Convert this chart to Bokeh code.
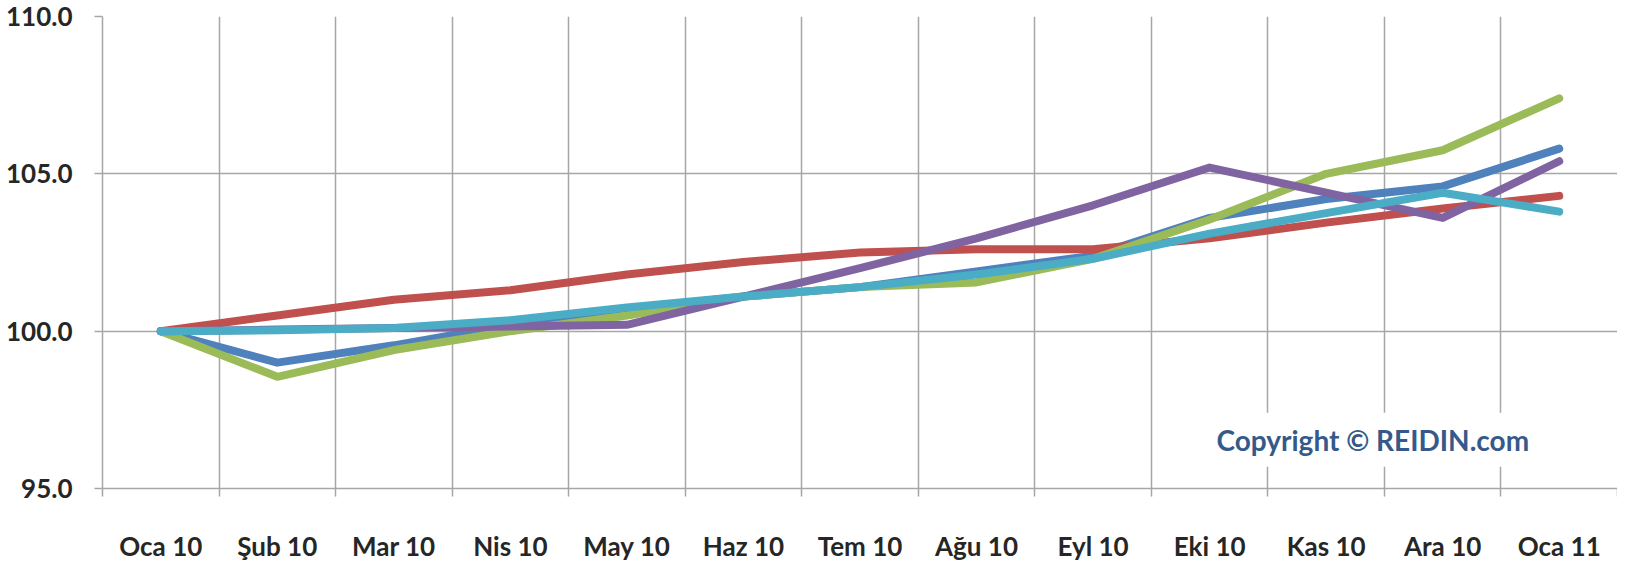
from bokeh.plotting import figure
from bokeh.models import FixedTicker, NumeralTickFormatter, Label, Range1d
from bokeh.embed import file_html
from bokeh.resources import INLINE

months = ["Oca 10", "Şub 10", "Mar 10", "Nis 10", "May 10", "Haz 10", "Tem 10",
          "Ağu 10", "Eyl 10", "Eki 10", "Kas 10", "Ara 10", "Oca 11"]

s_blue = [100.0, 99.0, 99.55, 100.2, 100.7, 101.1, 101.4, 101.9, 102.4, 103.6, 104.2, 104.6, 105.8]
s_red = [100.0, 100.5, 101.0, 101.3, 101.8, 102.2, 102.5, 102.6, 102.6, 102.95, 103.45, 103.9, 104.3]
s_green = [100.0, 98.55, 99.4, 100.0, 100.5, 101.1, 101.4, 101.55, 102.3, 103.55, 105.0, 105.75, 107.4]
s_purple = [100.0, 100.05, 100.1, 100.15, 100.2, 101.1, 102.0, 102.95, 104.0, 105.2, 104.4, 103.6, 105.4]
s_cyan = [100.0, 100.03, 100.1, 100.35, 100.75, 101.1, 101.4, 101.8, 102.3, 103.1, 103.75, 104.4, 103.8]

y_ticks = [95, 100, 105, 110]

series = [
    (s_blue, "#4F81BD"),
    (s_red, "#C0504D"),
    (s_green, "#9BBB59"),
    (s_purple, "#8064A2"),
    (s_cyan, "#4BACC6"),
]

n = len(months)
xc = [i + 0.5 for i in range(n)]

p = figure(width=1617, height=564, output_backend="svg", toolbar_location=None,
           x_range=Range1d(0, n), y_range=Range1d(95, 110),
           min_border_left=102, min_border_right=0, min_border_top=16, min_border_bottom=60)
p.outline_line_color = None
p.background_fill_color = "white"
p.border_fill_color = "white"

grid_color = "#A6A6A6"
p.xgrid.ticker = FixedTicker(ticks=list(range(n + 1)))
p.xgrid.grid_line_color = grid_color
p.xgrid.grid_line_width = 1.5
p.ygrid.ticker = FixedTicker(ticks=y_ticks)
p.ygrid.grid_line_color = grid_color
p.ygrid.grid_line_width = 1.5

label_font = "Lato"
label_color = "#262626"

xa = p.xaxis[0]
xa.ticker = FixedTicker(ticks=xc, minor_ticks=list(range(n + 1)))
xa.major_label_overrides = {x: m for x, m in zip(xc, months)}
xa.major_tick_line_color = None
xa.minor_tick_line_color = grid_color
xa.minor_tick_line_width = 1.5
xa.minor_tick_out = 8
xa.minor_tick_in = 0
xa.axis_line_color = grid_color
xa.axis_line_width = 1.5
xa.major_label_text_font = label_font
xa.major_label_text_font_style = "bold"
xa.major_label_text_font_size = "26px"
xa.major_label_text_color = label_color
xa.major_label_standoff = 33

ya = p.yaxis[0]
ya.ticker = FixedTicker(ticks=y_ticks)
ya.formatter = NumeralTickFormatter(format="0.0")
ya.major_tick_line_color = grid_color
ya.major_tick_line_width = 1.5
ya.major_tick_out = 8
ya.major_tick_in = 0
ya.minor_tick_line_color = None
ya.axis_line_color = grid_color
ya.axis_line_width = 1.5
ya.major_label_text_font = label_font
ya.major_label_text_font_style = "bold"
ya.major_label_text_font_size = "26px"
ya.major_label_text_color = label_color
ya.major_label_standoff = 22

for vals, col in series:
    p.line(xc, vals, line_color=col, line_width=8, line_join="round", line_cap="round")

lab = Label(x=10.9, y=96.55, text="Copyright © REIDIN.com", text_align="center",
            text_baseline="middle", text_font="Lato", text_font_style="bold",
            text_font_size="28px", text_color="#35598A",
            background_fill_color="white", padding=10)
p.add_layout(lab)

open("out.html", "w").write(file_html(p, INLINE))
